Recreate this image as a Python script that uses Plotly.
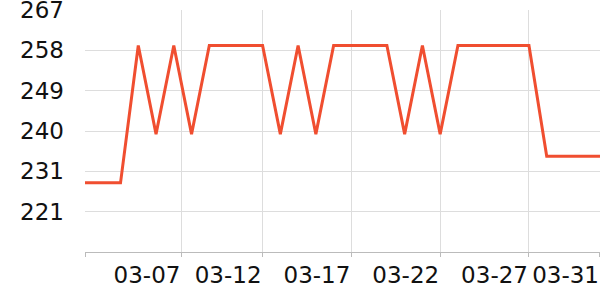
import plotly.graph_objects as go
import pandas as pd

dates = pd.date_range("2024-03-02", "2024-03-31", freq="D")
values = [228, 228, 228, 259, 239, 259, 239, 259, 259, 259,
          259, 239, 259, 239, 259, 259, 259, 259, 239, 259,
          239, 259, 259, 259, 259, 259, 234, 234, 234, 234]

x_tickvals = ["2024-03-02", "2024-03-07 10:20", "2024-03-12", "2024-03-17",
              "2024-03-22", "2024-03-27", "2024-03-31"]
x_ticktext = ["", "03-07", "03-12", "03-17", "03-22", "03-27", "03-31"]

y_min, y_max = 212.4, 267
y_ticktext = ["221", "231", "240", "249", "258", "267"]
y_tickvals = [round(y_min + (y_max - y_min) * (i + 1) / 6, 4) for i in range(6)]

fig = go.Figure()
fig.add_trace(go.Scatter(
    x=dates, y=values, mode="lines",
    line=dict(color="#f04e30", width=3),
    hoverinfo="skip",
))

fig.update_layout(
    width=600, height=300,
    margin=dict(l=85, r=0, t=10, b=48),
    plot_bgcolor="white", paper_bgcolor="white",
    showlegend=False,
    font=dict(family="DejaVu Sans", size=23, color="#111"),
)
fig.update_xaxes(
    range=["2024-03-02", "2024-03-31 00:00:30"],
    tickvals=x_tickvals, ticktext=x_ticktext,
    tickangle=0,
    ticklabelposition="outside left",
    ticklabeloverflow="allow",
    ticklabelstandoff=2,
    automargin=False,
    showgrid=True, gridcolor="#dddddd", gridwidth=1,
    showline=True, linecolor="#bbbbbb", linewidth=1,
    ticks="outside", ticklen=4, tickcolor="#bbbbbb",
    zeroline=False,
)
fig.update_yaxes(
    range=[y_min, y_max + 0.01],
    tickvals=y_tickvals, ticktext=y_ticktext,
    ticklabeloverflow="allow",
    automargin=False,
    showgrid=True, gridcolor="#dddddd", gridwidth=1,
    showline=False, ticks="", zeroline=False,
    ticklabelstandoff=20,
)
fig.write_html("out.html")
